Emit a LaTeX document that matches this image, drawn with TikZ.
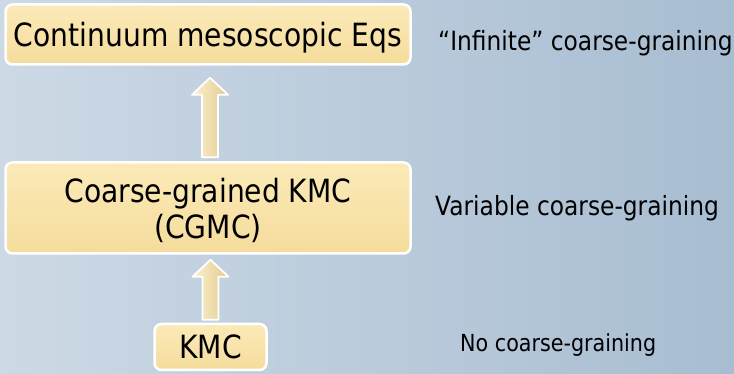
\documentclass[tikz,border=0pt]{standalone}
\usepackage{fontspec}
\setmainfont{DejaVu Sans}[FakeStretch=0.88]
\usetikzlibrary{calc}

\definecolor{bgleft}{HTML}{CDD9E5}
\definecolor{bgright}{HTML}{A8BDD2}
\definecolor{boxtop}{HTML}{FBEAB8}
\definecolor{boxbot}{HTML}{F5DC9C}
\definecolor{arrlight}{HTML}{FBF1CF}
\definecolor{arrdark}{HTML}{E3CB8E}

\tikzset{
	stagebox/.style={draw=white, line width=2.5pt, rounded corners=7pt,
		top color=boxtop, bottom color=boxbot, inner sep=0pt,
		font=\fontsize{32}{36}\selectfont},
	oneline/.style={text height=30pt, text depth=6pt},
	blockarrow/.style={draw=white, line width=1.8pt, line join=round,
		left color=arrlight, right color=arrdark},
	sidelabel/.style={anchor=base west, inner sep=0pt,
		font=\fontsize{26.5}{30}\selectfont}
}

\begin{document}
\begin{tikzpicture}[x=1pt, y=1pt]
		\shade[left color=bgleft, right color=bgright] (0, 0) rectangle (734, 374);
		\useasboundingbox (0, 0) rectangle (734, 374);

		% the three stages
		\node[stagebox, oneline, minimum width=405, minimum height=60] (cont) at (208, 339.5)
			{Continuum mesoscopic Eqs};
		\node[stagebox, minimum width=405, minimum height=91, align=center,
			text height=68pt, text depth=6pt] (cgmc) at (208, 166)
			{Coarse-grained KMC\\(CGMC)};
		\node[stagebox, oneline, minimum width=112, minimum height=46] (kmc) at (210.5, 27)
			{KMC};

		% block arrows between the stages
		\draw[blockarrow] let \p1=($(kmc.north)+(0, 3)$), \p2=($(cgmc.south)+(0, -5)$) in
			(\x1-8, \y1) -- (\x1-8, \y2-17) -- (\x1-18, \y2-17) -- (\x1, \y2)
			-- (\x1+18, \y2-17) -- (\x1+8, \y2-17) -- (\x1+8, \y1) -- cycle;
		\draw[blockarrow] let \p1=($(cgmc.north)+(2, 4)$), \p2=($(cont.south)+(0, -12)$) in
			(\x1-8, \y1) -- (\x1-8, \y2-17) -- (\x1-18, \y2-17) -- (\x1, \y2)
			-- (\x1+18, \y2-17) -- (\x1+8, \y2-17) -- (\x1+8, \y1) -- cycle;

		% amount of coarse-graining
		\node[sidelabel] (infl) at (438, 323) {“Infinite” coarse-graining};
		\node[sidelabel] (varl) at (435, 158) {Variable coarse-graining};
		\node[sidelabel, font=\fontsize{23.5}{27}\selectfont] (nol) at (460, 22) {No coarse-graining};
	\end{tikzpicture}
\end{document}
